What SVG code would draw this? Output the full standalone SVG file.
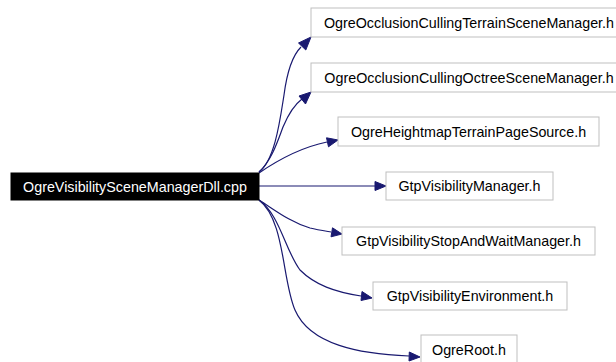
<svg xmlns="http://www.w3.org/2000/svg" width="616" height="362" viewBox="0 0 616 362">
<defs>
<style>
.n rect{fill:#ffffff;stroke:#bfbfbf;stroke-width:1}
.n text{font-family:"Liberation Sans",Arial,sans-serif;font-size:14.3px;fill:#000000;text-anchor:middle}
#main rect{fill:#000000;stroke:#000000}
#main text{fill:#ffffff}
.e path{fill:none;stroke:#191970;stroke-width:1.2}
.e polygon{fill:#191970;stroke:#191970;stroke-width:1}
</style>
</defs>
<rect width="616" height="362" fill="#ffffff"/>
<g class="e" id="edges">
<path d="M259,172 C275,160 280,120 284,95 C287,72 292,56 301,47"/>
<polygon points="311,37 305.8,50 298.5,43"/>
<path d="M259,172 C272,160 278,140 283,127 C288,115 294,105 302,99"/>
<polygon points="311,92 305.5,104 299,96"/>
<path d="M259,173 C275,162 298,148 327,142"/>
<polygon points="338,140 328.5,146.8 326.5,137.8"/>
<path d="M259,186 L375,186"/>
<polygon points="386,186 375,190.5 375,181.5"/>
<path d="M259,200 C275,210 290,222 310,228 C318,230 325,231 331,232"/>
<polygon points="342,234 331,236.8 332.5,227.8"/>
<path d="M259,200 C280,215 285,250 300,270 C315,285 335,292 361,296"/>
<polygon points="372,298 361,300.5 362,291.5"/>
<path d="M259,200 C285,220 282,280 295,310 C310,345 360,354 409,356"/>
<polygon points="420,357 409,361 409.3,352"/>
</g>
<g class="n" id="main"><rect x="11" y="173" width="248" height="27"/><text x="135" y="191.5">OgreVisibilitySceneManagerDll.cpp</text></g>
<g class="n" id="n1"><rect x="311" y="8" width="316" height="29"/><text x="469" y="27.5">OgreOcclusionCullingTerrainSceneManager.h</text></g>
<g class="n" id="n2"><rect x="311" y="63" width="316" height="29"/><text x="469" y="82.5">OgreOcclusionCullingOctreeSceneManager.h</text></g>
<g class="n" id="n3"><rect x="338" y="117" width="261" height="29"/><text x="468.5" y="136.5">OgreHeightmapTerrainPageSource.h</text></g>
<g class="n" id="n4"><rect x="386" y="172" width="167" height="28"/><text x="469.5" y="191">GtpVisibilityManager.h</text></g>
<g class="n" id="n5"><rect x="342" y="227" width="253" height="28"/><text x="468.5" y="246">GtpVisibilityStopAndWaitManager.h</text></g>
<g class="n" id="n6"><rect x="373" y="282" width="194" height="28"/><text x="470" y="301">GtpVisibilityEnvironment.h</text></g>
<g class="n" id="n7"><rect x="421" y="335" width="96" height="29"/><text x="469" y="354.5">OgreRoot.h</text></g>
</svg>
